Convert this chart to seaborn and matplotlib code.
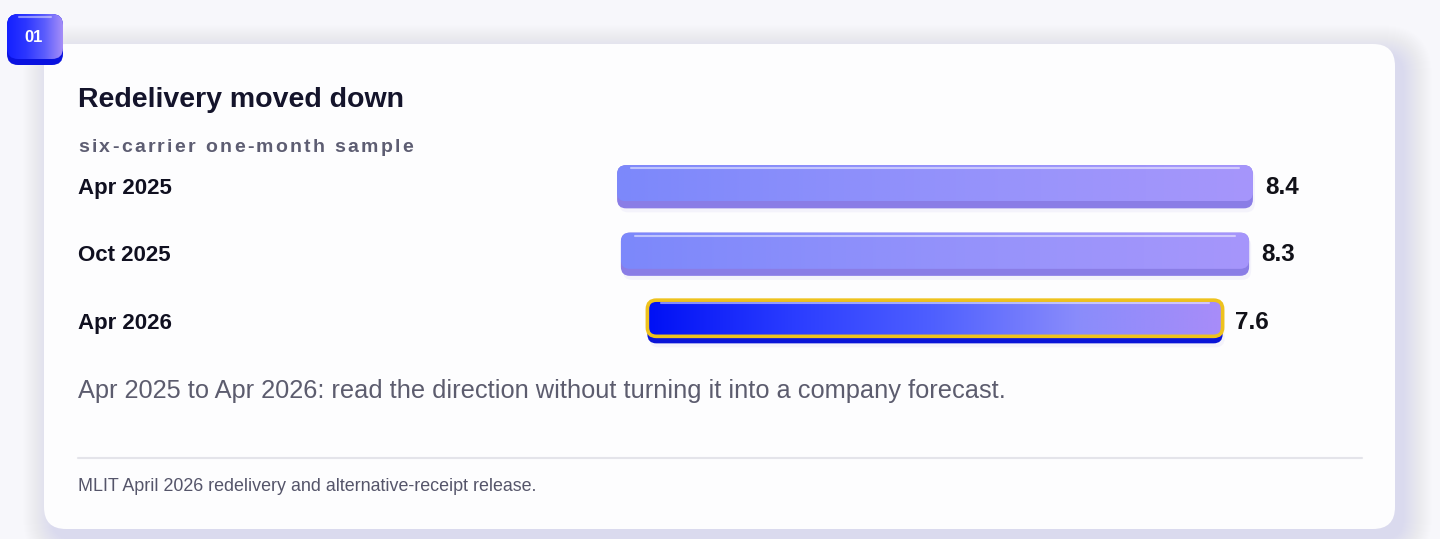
import numpy as np
import matplotlib
matplotlib.use("Agg")
import matplotlib.pyplot as plt
import matplotlib.transforms as mtransforms
from matplotlib.colors import LinearSegmentedColormap
from matplotlib.patches import FancyBboxPatch
import seaborn as sns

# data
periods = ["Apr 2025", "Oct 2025", "Apr 2026"]
values = [8.4, 8.3, 7.6]
highlight_period = "Apr 2026"

title = "Redelivery moved down"
subtitle = "six-carrier one-month sample"
note = "Apr 2025 to Apr 2026: read the direction without turning it into a company forecast."
source = "MLIT April 2026 redelivery and alternative-receipt release."
badge = "01"

sns.set_style("white")
plt.rcParams["font.family"] = ["Liberation Sans", "DejaVu Sans"]

W, H = 1440, 539
fig = plt.figure(figsize=(W / 100, H / 100), dpi=100)
fig.patch.set_facecolor("#f7f7fb")

# background axes in pixel units (y down)
bg = fig.add_axes([0, 0, 1, 1])
bg.set_xlim(0, W)
bg.set_ylim(H, 0)
bg.axis("off")

# card shadow, soft and lavender
for i in range(1, 30):
    bg.add_patch(FancyBboxPatch((44 + 8 - i, 44 + 10 - i), 1351 + 2 * i, 485 + 2 * i,
                                boxstyle="round,pad=0,rounding_size=%d" % (22 + i),
                                fc="#8a82ee", ec="none", alpha=0.005, zorder=0))
bg.add_patch(FancyBboxPatch((44, 44), 1351, 485, boxstyle="round,pad=0,rounding_size=22",
                            fc="#fdfdfe", ec="none", zorder=1))

# badge
bg.add_patch(FancyBboxPatch((7, 14), 56, 51, boxstyle="round,pad=0,rounding_size=11",
                            fc="#0a12e0", ec="none", zorder=2))
bface = FancyBboxPatch((7, 14), 56, 45, boxstyle="round,pad=0,rounding_size=11",
                       fc="none", ec="none", zorder=3)
bg.add_patch(bface)
badge_cmap = LinearSegmentedColormap.from_list("badge", ["#1420ff", "#2c36ff", "#5a5cfd", "#a58ef8"])
im = bg.imshow(np.linspace(0, 1, 256).reshape(1, -1), extent=(7, 63, 59, 14), cmap=badge_cmap,
               aspect="auto", zorder=3, interpolation="bilinear")
im.set_clip_path(bface)
bg.plot([19, 51], [16.5, 16.5], color="white", alpha=0.45, lw=1.5, zorder=4, solid_capstyle="round")
bg.text(34, 42, badge, color="white", fontsize=12, weight="bold", ha="center", va="baseline", zorder=5)
bg.set_xlim(0, W)
bg.set_ylim(H, 0)

# titles
bg.text(78, 107, title, fontsize=20.5, weight="bold", color="#14142b", va="baseline", zorder=5)

renderer = fig.canvas.get_renderer()
probe = bg.text(0, 0, "", fontsize=14, weight="bold")
spacing = 2.3
for i, ch in enumerate(subtitle):
    probe.set_text(subtitle[:i])
    wpre = probe.get_window_extent(renderer).width if i else 0
    bg.text(78 + wpre + i * spacing, 152, ch, fontsize=14, weight="bold", color="#5d5d72",
            va="baseline", zorder=5)
probe.remove()

bg.text(78, 398, note, fontsize=18.3, color="#5c5c6e", va="baseline", zorder=5)
bg.plot([78, 1362], [458, 458], color="#e4e4ea", lw=1.5, zorder=5)
bg.text(78, 491, source, fontsize=12.9, color="#55556a", va="baseline", zorder=5)

# bars axes
ax_l, ax_r, ax_t, ax_b = 500, 1370, 153, 355.5
ax = fig.add_axes([ax_l / W, 1 - ax_b / H, (ax_r - ax_l) / W, (ax_b - ax_t) / H])
ax.patch.set_alpha(0)
sns.barplot(x=values, y=periods, orient="h", ax=ax, width=0.64, color="#8a8cfb")
half = 5.747
ax.set_xlim(-half, half)
ax.set_ylim(len(periods) - 0.5, -0.5)
ux = 2 * half / (ax_r - ax_l)
uy = len(periods) / (ax_b - ax_t)

reg_cmap = LinearSegmentedColormap.from_list("reg", ["#7c88fb", "#8c8ffb", "#9a94fb", "#a696fb"])
hi_cmap = LinearSegmentedColormap.from_list("hi", ["#0010f5", "#2a3cff", "#4f60ff", "#8a8cfb", "#a88cf9"])
grad = np.linspace(0, 1, 256).reshape(1, -1)
label_tr = mtransforms.blended_transform_factory(bg.transData, ax.transData)

for p, period, v in zip(list(ax.patches), periods, values):
    w = p.get_width()
    h = p.get_height()
    y0 = p.get_y()
    x0 = -w / 2
    p.set_x(x0)
    p.set_visible(False)
    hot = period == highlight_period
    lip = 7 * uy
    r = 9 * ux
    asp = uy / ux
    # soft shadow
    ax.add_patch(FancyBboxPatch((x0 + 2 * ux, y0 + 4 * uy), w, h, boxstyle="round,pad=0,rounding_size=%f" % r,
                                mutation_aspect=asp, fc="#6b5fd8", ec="none", alpha=0.06, zorder=1))
    ax.add_patch(FancyBboxPatch((x0, y0), w, h, boxstyle="round,pad=0,rounding_size=%f" % r,
                                mutation_aspect=asp, fc="#0a14d8" if hot else "#8a7de6", ec="none", zorder=2))
    face = FancyBboxPatch((x0, y0), w, h - lip, boxstyle="round,pad=0,rounding_size=%f" % r,
                          mutation_aspect=asp, fc="none", ec="none", zorder=3)
    ax.add_patch(face)
    im = ax.imshow(grad, extent=(x0, x0 + w, y0 + h - lip, y0), cmap=hi_cmap if hot else reg_cmap,
                   aspect="auto", zorder=3, interpolation="bilinear")
    im.set_clip_path(face)
    ax.plot([x0 + 14 * ux, x0 + w - 14 * ux], [y0 + 3 * uy] * 2, color="white", alpha=0.5, lw=1.5,
            zorder=4, solid_capstyle="round")
    if hot:
        ax.add_patch(FancyBboxPatch((x0, y0), w, h - lip, boxstyle="round,pad=0,rounding_size=%f" % r,
                                    mutation_aspect=asp, fc="none", ec="#eec21e", lw=2.6, zorder=5))
    yc = y0 + h / 2
    ax.text(x0 + w + 12 * ux, yc + 7 * uy, "%.1f" % v, fontsize=17.5, weight="bold", color="#111118",
            ha="left", va="baseline", zorder=6, clip_on=False)
    ax.text(78, yc + 7 * uy, period, transform=label_tr, fontsize=16, weight="bold", color="#101020",
            ha="left", va="baseline", zorder=6, clip_on=False)

ax.set_xlim(-half, half)
ax.set_ylim(len(periods) - 0.5, -0.5)
ax.axis("off")

fig.savefig("out.png", dpi=100, facecolor=fig.get_facecolor())
